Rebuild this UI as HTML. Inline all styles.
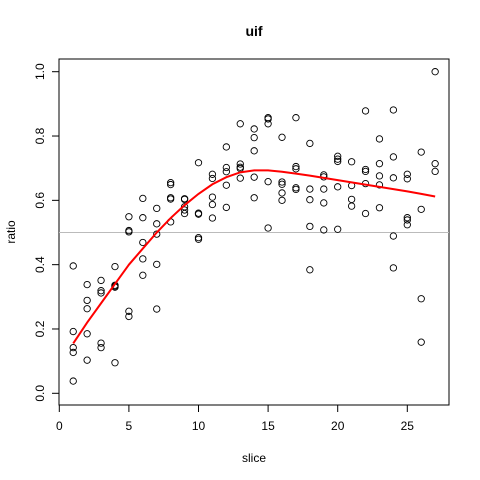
<!DOCTYPE html>
<html><head><meta charset="utf-8"><style>body{margin:0;background:#fff}svg{display:block;font-family:"Liberation Sans",sans-serif}</style></head>
<body>
<svg id="chart" width="480" height="480"></svg>
<script>
const xs=[1,1,1,1,1,2,2,2,2,2,3,3,3,3,3,4,4,4,4,4,5,5,5,5,5,6,6,6,6,6,7,7,7,7,7,8,8,8,8,8,9,9,9,9,9,10,10,10,10,10,11,11,11,11,11,12,12,12,12,12,13,13,13,13,13,14,14,14,14,14,15,15,15,15,15,16,16,16,16,16,17,17,17,17,17,18,18,18,18,18,19,19,19,19,19,20,20,20,20,20,21,21,21,21,22,22,22,22,22,23,23,23,23,23,24,24,24,24,24,25,25,25,25,25,26,26,26,26,27,27,27];
const ys=[0.396,0.192,0.142,0.127,0.038,0.338,0.289,0.263,0.185,0.103,0.351,0.319,0.312,0.156,0.142,0.394,0.336,0.333,0.330,0.095,0.549,0.506,0.502,0.255,0.239,0.606,0.546,0.469,0.418,0.367,0.575,0.527,0.495,0.401,0.262,0.655,0.649,0.608,0.604,0.533,0.605,0.603,0.580,0.570,0.559,0.717,0.560,0.557,0.484,0.479,0.681,0.668,0.610,0.587,0.545,0.766,0.702,0.689,0.647,0.578,0.838,0.713,0.703,0.699,0.669,0.822,0.795,0.754,0.672,0.608,0.857,0.853,0.838,0.658,0.514,0.796,0.657,0.650,0.623,0.600,0.857,0.705,0.698,0.639,0.634,0.777,0.635,0.602,0.519,0.384,0.679,0.673,0.635,0.592,0.508,0.737,0.728,0.721,0.642,0.510,0.720,0.646,0.603,0.582,0.878,0.696,0.690,0.652,0.559,0.791,0.714,0.676,0.648,0.577,0.881,0.735,0.670,0.489,0.390,0.681,0.667,0.546,0.539,0.524,0.750,0.572,0.294,0.159,1.0,0.714,0.690];
const fitX=[1,2,3,4,5,6,7,8,9,10,11,12,13,14,15,16,17,18,19,20,21,22,23,24,25,26,27];
const fitY=[0.155,0.22,0.28,0.34,0.40,0.45,0.50,0.545,0.585,0.62,0.65,0.672,0.687,0.693,0.693,0.689,0.683,0.677,0.67,0.663,0.656,0.649,0.642,0.635,0.628,0.62,0.612];
const xTicks=[0,5,10,15,20,25];
const yTicks=[0,0.2,0.4,0.6,0.8,1.0];
const refLine=0.5;
const svg=document.getElementById('chart');const NS='http://www.w3.org/2000/svg';
const X=v=>59.3+v*13.92, Y=v=>393.3-v*321.6;
function mk(t,a,txt){const e=document.createElementNS(NS,t);for(const k in a)e.setAttribute(k,a[k]);if(txt!=null)e.textContent=txt;svg.appendChild(e);return e;}
let e;
e=mk('rect',{x:59,y:59,width:390,height:346,fill:'none',stroke:'#000'});


e=mk('line',{x1:59,x2:449,y1:Y(refLine),y2:Y(refLine),stroke:'#bbb'});


xTicks.forEach(t=>{mk('line',{x1:X(t),x2:X(t),y1:405,y2:412,stroke:'#000'});
e=mk('text',{x:X(t),y:430,'font-size':12,'text-anchor':'middle'},String(t));

});
mk('line',{x1:X(0),x2:X(25),y1:405,y2:405,stroke:'#000'});
yTicks.forEach(t=>{mk('line',{x1:52,x2:59,y1:Y(t),y2:Y(t),stroke:'#000'});
e=mk('text',{x:0,y:0,'font-size':12,'text-anchor':'middle',transform:`translate(44,${Y(t)}) rotate(-90)`},t.toFixed(1));

});
xs.forEach((x,i)=>{e=mk('circle',{cx:X(x),cy:Y(ys[i]),r:3.2,fill:'none',stroke:'#000','stroke-width':0.9});

});
e=mk('polyline',{points:fitX.map((x,i)=>X(x)+','+Y(fitY[i])).join(' '),fill:'none',stroke:'#f00','stroke-width':2});


e=mk('text',{x:254,y:36,'font-size':14,'font-weight':'bold','text-anchor':'middle'},'uif');


e=mk('text',{x:254,y:462,'font-size':12,'text-anchor':'middle'},'slice');


e=mk('text',{x:0,y:0,'font-size':12,'text-anchor':'middle',transform:'translate(15,232) rotate(-90)'},'ratio');


</script>
</body></html>
